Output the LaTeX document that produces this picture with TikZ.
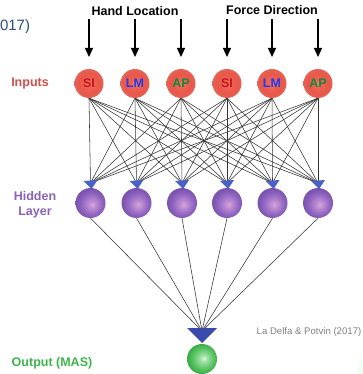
\documentclass[tikz,border=0pt]{standalone}
\usepackage{fontspec}
\setmainfont{Liberation Sans}
\usetikzlibrary{arrows.meta}
\definecolor{inred}{HTML}{D24E4A}
\definecolor{hidpurple}{HTML}{8A62B8}
\definecolor{outgreen}{HTML}{3DB54B}
\definecolor{txtSI}{HTML}{C0141C}
\definecolor{txtLM}{HTML}{1E3CF0}
\definecolor{txtAP}{HTML}{108A3C}
\definecolor{arrblue}{HTML}{4A62C8}
\definecolor{outtri}{HTML}{3A4AAA}
\definecolor{citeblue}{HTML}{2E4C7C}
\definecolor{r0}{HTML}{F5806E}
\definecolor{r1}{HTML}{EF6454}
\definecolor{r2}{HTML}{E9574A}
\definecolor{r3}{HTML}{E46456}
\definecolor{p0}{HTML}{D9A4D8}
\definecolor{p1}{HTML}{BC8CD2}
\definecolor{p2}{HTML}{9266C2}
\definecolor{p3}{HTML}{7A54AE}
\definecolor{g0}{HTML}{DDF5E0}
\definecolor{g1}{HTML}{9BE0A2}
\definecolor{g2}{HTML}{55C260}
\definecolor{g3}{HTML}{3BAE48}
\pgfdeclareradialshading{redball}{\pgfpoint{0bp}{0bp}}{color(0bp)=(r0); color(6bp)=(r1); color(18bp)=(r2); color(25bp)=(r3); color(50bp)=(r3)}
\pgfdeclareradialshading{purpleball}{\pgfpoint{3bp}{-3bp}}{color(0bp)=(p0); color(6bp)=(p1); color(17bp)=(p2); color(25bp)=(p3); color(50bp)=(p3)}
\pgfdeclareradialshading{greenball}{\pgfpoint{3bp}{1bp}}{color(0bp)=(g0); color(6bp)=(g1); color(18bp)=(g2); color(25bp)=(g3); color(50bp)=(g3)}
\tikzset{
  lbl/.style={font=\fontsize{12.5}{14.5}\selectfont\bfseries, align=center},
  inball/.style={circle, minimum size=29pt, inner sep=0pt, shading=redball, font=\fontsize{12.5}{14}\selectfont\bfseries},
  hidball/.style={circle, minimum size=30pt, inner sep=0pt, shading=purpleball},
  outball/.style={circle, minimum size=30pt, inner sep=0pt, shading=greenball},
  topar/.style={line width=1.3pt, -{Triangle[width=8pt,length=9pt]}},
  wire/.style={line width=0.55pt, draw=black!80},
  hidtip/.style={fill=arrblue, draw=none},
}
\begin{document}
\begin{tikzpicture}[x=1pt,y=-1pt]
\useasboundingbox (0,0) rectangle (363,374);
% labels
\node[lbl, anchor=base] (hl) at (135,16) {Hand Location};
\node[lbl, anchor=base] (fd) at (272,15) {Force Direction};
\node[lbl, text=inred] (linp) at (30,83) {Inputs};
\node[lbl, text=hidpurple] (lhid) at (35,205) {Hidden\\Layer};
\node[lbl, text=outgreen] (lout) at (52,363) {Output (MAS)};
\node[anchor=west, text=citeblue, font=\fontsize{15}{17}\selectfont] (cite) at (-3.5,27) {017)};
\node[anchor=east, text=black!50, font=\fontsize{9.6}{11}\selectfont, inner sep=1pt] (ref) at (362.5,332) {La Delfa \& Potvin (2017)};
% faint shape bottom right
\fill[green!40!white, opacity=0.12] (378,372) circle (21);
% input nodes
\foreach \x/\t/\c [count=\i] in {89/SI/txtSI,135/LM/txtLM,181/AP/txtAP,227/SI/txtSI,272/LM/txtLM,318/AP/txtAP}{
  \node[inball, text=\c] (i\i) at (\x,83.5) {\t};
  \coordinate (t\i) at (\x,19);
  \coordinate (a\i) at (\x,57);
  \draw[topar] (t\i) -- (a\i);
}
% hidden nodes
\foreach \x [count=\j] in {90.5,136.5,182,227,272.5,318}{
  \node[hidball] (h\j) at (\x,203) {};
  \coordinate (hc\j) at (\x,183);
}
% output
\node[outball] (o) at (202,359) {};
\coordinate (oc) at (202,331);
% wires input -> hidden
\foreach \i in {1,...,6}{
  \foreach \j in {1,...,6}{
    \draw[wire] (i\i.south) -- (hc\j);
  }
}
% wires hidden -> output
\foreach \j in {1,...,6}{
  \draw[wire] (h\j.south) -- (oc);
}
% hidden tips
\foreach \j in {1,...,6}{
  \fill[hidtip] ([xshift=-7pt,yshift=2pt]hc\j) -- ([xshift=7pt,yshift=3pt]hc\j) -- ([xshift=1pt,yshift=-6pt]hc\j) -- cycle;
}
% output triangle
\fill[outtri] (187,328) -- (217,328) -- (202,343) -- cycle;
\end{tikzpicture}
\end{document}
